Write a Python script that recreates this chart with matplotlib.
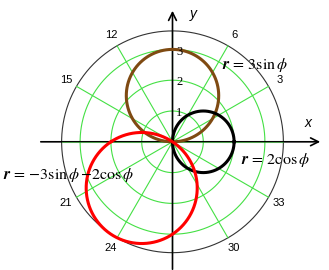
import numpy as np
import matplotlib
matplotlib.use("Agg")
import matplotlib.pyplot as plt

plt.rcParams['mathtext.fontset'] = 'stix'

# data
grid_radii = [1, 2, 3]
radial_labels = ["1", "2", "3"]
outer_radius = 3.6
spoke_angles_deg = [0, 30, 60, 90, 120, 150, 180, 210, 240, 270, 300, 330]
angle_label_deg = [30, 60, 120, 150, 210, 240, 300, 330]
angle_labels = ["3", "6", "12", "15", "21", "24", "30", "33"]
curve_labels = [r"$\mathbfit{r}\,=\,3\mathrm{sin}\,\phi$",
                r"$\mathbfit{r}\,=\,2\mathrm{cos}\,\phi$",
                r"$\mathbfit{r}\,=\,{-}3\mathrm{sin}\,\phi\,{-}2\mathrm{cos}\,\phi$"]
curve_colors = ['#7f4a12', 'black', '#ff0000']

S = 30.8  # px per unit
cx, cy = 172.5, 141.8
W, H = 329, 270
fig = plt.figure(figsize=(W/100, H/100), dpi=100)
ax = fig.add_axes([0, 0, 1, 1])
ax.set_xlim(-cx/S, (W-cx)/S)
ax.set_ylim(-(H-cy)/S, cy/S)
ax.set_aspect('equal')
ax.axis('off')

def px(x, y):
    return (x-cx)/S, (cy-y)/S

green = '#44e044'
t = np.linspace(0, 2*np.pi, 400)
for r in grid_radii:
    ax.plot(r*np.cos(t), r*np.sin(t), color=green, lw=0.8, zorder=2)
ax.plot(outer_radius*np.cos(t), outer_radius*np.sin(t), color='#333333', lw=0.8, zorder=2)

for a in spoke_angles_deg:
    ar = np.radians(a)
    if a in (90, 270):
        z, al = 2, 1
    elif a in (0, 180):
        z, al = 4, 0.5
    else:
        z, al = 4, 1
    ax.plot([0, outer_radius*np.cos(ar)], [0, outer_radius*np.sin(ar)],
            color=green, lw=0.8, zorder=z, alpha=al)

# axes
xl, _ = px(38, 0)
xr, _ = px(323, 0)
ax.annotate('', xy=(xr, 0), xytext=(xl, 0),
            arrowprops=dict(arrowstyle='->', color='black', lw=1.2, mutation_scale=14), zorder=3)
_, yt = px(0, 8)
_, yb = px(0, 272)
ax.annotate('', xy=(0, yt), xytext=(0, yb),
            arrowprops=dict(arrowstyle='->', color='black', lw=1.2, mutation_scale=14), zorder=3)

for a, lab in zip(angle_label_deg, angle_labels):
    ar = np.radians(a)
    ax.text(4.0*np.cos(ar), 4.0*np.sin(ar), lab, ha='center', va='center',
            fontsize=8, family='Liberation Sans', zorder=6)

for r, lab in zip(grid_radii, radial_labels):
    ax.text(0.12, r - 0.07, lab, ha='left', va='center', fontsize=9,
            family='Liberation Serif', zorder=6)

ax.text(*px(308, 123), 'x', ha='center', va='center', fontsize=10,
        family='Liberation Sans', style='italic')
ax.text(*px(193, 14), 'y', ha='center', va='center', fontsize=10,
        family='Liberation Sans', style='italic')

phi = np.linspace(0, np.pi, 400)
r1 = 3*np.sin(phi)
r2 = 2*np.cos(phi)
r3 = -3*np.sin(phi) - 2*np.cos(phi)
for r, c in zip([r1, r2, r3], curve_colors):
    ax.plot(r*np.cos(phi), r*np.sin(phi), color=c, lw=2.2, zorder=5)

ax.text(*px(222, 65), curve_labels[0], ha='left', va='center', fontsize=11.5, zorder=7)
ax.text(*px(241, 160), curve_labels[1], ha='left', va='center', fontsize=11.5, zorder=7)
ax.text(*px(3, 175), curve_labels[2], ha='left', va='center', fontsize=11.5, zorder=7)

fig.savefig('out.png', dpi=100)
